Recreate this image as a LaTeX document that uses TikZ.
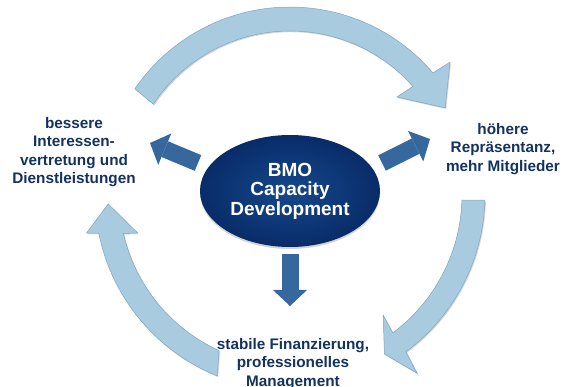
\documentclass[tikz,border=0pt]{standalone}
\usepackage{fontspec}
\setmainfont{Liberation Sans}
\usetikzlibrary{arrows.meta,shapes.geometric,shadows}

\definecolor{textnavy}{RGB}{20,50,96}
\definecolor{bmoinner}{RGB}{22,72,140}
\definecolor{bmoouter}{RGB}{8,44,104}
\definecolor{pushblue}{RGB}{54,104,158}
\definecolor{ringblue}{RGB}{168,203,224}
\definecolor{ringedge}{RGB}{125,165,195}

\tikzset{
    goal/.style={align=center, text=textnavy, font=\fontsize{15.3}{18.5}\selectfont\bfseries},
    push/.style={draw=pushblue, line width=17pt, -{Triangle[width=34pt, length=16pt, line width=0pt]}},
    ring/.style={fill=ringblue, draw=ringedge, line width=0.5pt, drop shadow={shadow xshift=1pt, shadow yshift=-1.2pt, opacity=0.3}}
}

\begin{document}
\begin{tikzpicture}[x=1pt, y=1pt]
    \useasboundingbox (0,0) rectangle (574,-387);

    \begin{scope}[shift={(290,-195)}]
        \path[ring] (145.6:188) arc[start angle=145.6, end angle=40.5, radius=188] -- (39.7:208) -- (29.3:178) -- (42.5:145) -- (41.5:164) arc[start angle=41.5, end angle=146.4, radius=164] -- cycle;
        \path[ring] (-1.5:195) arc[start angle=-1.5, end angle=-53.5, radius=195] -- (-54.5:219) -- (-59.3:185) -- (-52.2:152) -- (-53.3:172) arc[start angle=-53.3, end angle=-1.7, radius=172] -- cycle;
        \path[ring] (-111.9:195) arc[start angle=-111.9, end angle=-168.7, radius=195] -- (-169.4:207) -- (-177.2:182) -- (-166:157) -- (-167:171) arc[start angle=-167, end angle=-114.5, radius=171] -- cycle;
    \end{scope}

    \node[ellipse, minimum width=180pt, minimum height=112pt, inner sep=0pt, shading=radial, inner color=bmoinner, outer color=bmoouter, drop shadow={shadow xshift=0pt, shadow yshift=-2pt, opacity=0.35}, text=white, align=center, font=\fontsize{19}{19.5}\selectfont\bfseries] (bmo) at (290,-191) {BMO\\Capacity\\Development};

    \node[goal] (besser) at (74,-152) {bessere\\Interessen-\\vertretung und\\Dienstleistungen};
    \node[goal] (hoeher) at (503,-149) {höhere\\Repräsentanz,\\mehr Mitglieder};
    \node[goal] (stabil) at (293,-364) {stabile Finanzierung,\\professionelles\\Management};

    \coordinate (lfrom) at (198,-163);
    \coordinate (lto) at (150,-143);
    \coordinate (rfrom) at (382,-163);
    \coordinate (rto) at (430,-139);
    \coordinate (dfrom) at (290,-254);
    \coordinate (dto) at (290,-306);

    \draw[push] (lfrom) -- (lto);
    \draw[push] (rfrom) -- (rto);
    \draw[push] (dfrom) -- (dto);
\end{tikzpicture}
\end{document}
